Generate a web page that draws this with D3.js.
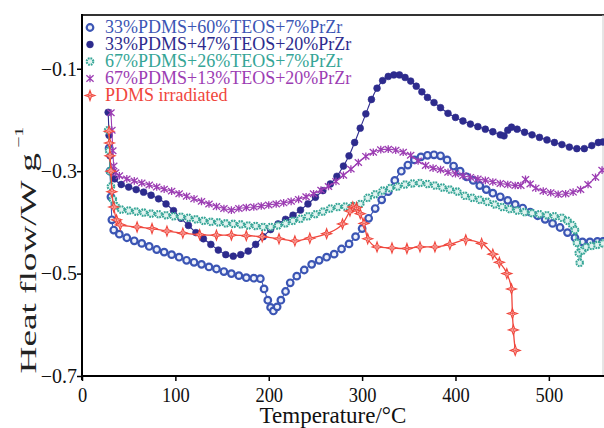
<!DOCTYPE html>
<html>
<head>
<meta charset="utf-8">
<script src="https://cdn.jsdelivr.net/npm/d3@7"></script>
<style>
  html, body { margin: 0; padding: 0; background: #fff; }
  svg { display: block; }
  text { font-family: "Liberation Serif", "Times New Roman", serif; }
</style>
</head>
<body>
<svg id="chart" width="604" height="428"></svg>
<script>
// ---------------- data ----------------
const seriesNames = [
  "33%PDMS+60%TEOS+7%PrZr",
  "33%PDMS+47%TEOS+20%PrZr",
  "67%PDMS+26%TEOS+7%PrZr",
  "67%PDMS+13%TEOS+20%PrZr",
  "PDMS irradiated"
];
const seriesColors = ["#3b55b4", "#2d2b8d", "#35a596", "#9c3db3", "#f0463c"];

const xTicks = [0, 100, 200, 300, 400, 500];
const yTicks = [-0.1, -0.3, -0.5, -0.7];
const yTickLabels = ["\u22120.1", "\u22120.3", "\u22120.5", "\u22120.7"];

// [temperature °C, heat flow W/g]
const s1 = [[29,-0.255],[30,-0.30],[31,-0.35],[32,-0.395],[34,-0.415],[40,-0.423],[48,-0.430],[56,-0.436],[64,-0.441],[72,-0.447],[80,-0.453],[88,-0.458],[96,-0.463],[104,-0.468],[112,-0.474],[120,-0.478],[128,-0.482],[136,-0.487],[144,-0.491],[152,-0.496],[160,-0.500],[168,-0.504],[176,-0.508],[184,-0.509],[191,-0.510],[195,-0.530],[199,-0.552],[202,-0.566],[205,-0.573],[209,-0.565],[213,-0.552],[218,-0.535],[223,-0.518],[230,-0.505],[238,-0.493],[246,-0.482],[254,-0.474],[262,-0.468],[270,-0.462],[278,-0.452],[286,-0.442],[293,-0.428],[300,-0.412],[307,-0.392],[314,-0.373],[321,-0.356],[328,-0.340],[335,-0.318],[342,-0.300],[349,-0.288],[356,-0.278],[363,-0.272],[370,-0.269],[377,-0.268],[384,-0.270],[391,-0.278],[398,-0.290],[405,-0.300],[412,-0.311],[419,-0.318],[426,-0.328],[433,-0.336],[440,-0.343],[448,-0.350],[456,-0.357],[464,-0.365],[472,-0.372],[480,-0.380],[488,-0.387],[496,-0.394],[504,-0.402],[512,-0.410],[520,-0.420],[528,-0.430],[536,-0.438],[544,-0.438],[552,-0.437],[558,-0.437]];

const s2 = [[28,-0.185],[29,-0.23],[30,-0.27],[32,-0.30],[35,-0.315],[42,-0.326],[50,-0.331],[58,-0.336],[66,-0.341],[74,-0.347],[82,-0.354],[90,-0.364],[98,-0.377],[106,-0.392],[114,-0.406],[122,-0.420],[130,-0.432],[138,-0.443],[146,-0.454],[154,-0.463],[162,-0.466],[170,-0.463],[178,-0.456],[186,-0.443],[194,-0.428],[202,-0.414],[210,-0.403],[218,-0.394],[226,-0.386],[234,-0.376],[242,-0.364],[250,-0.351],[258,-0.338],[266,-0.325],[273,-0.310],[280,-0.290],[286,-0.270],[292,-0.244],[298,-0.216],[304,-0.188],[310,-0.160],[316,-0.138],[322,-0.123],[328,-0.115],[334,-0.112],[340,-0.112],[346,-0.117],[352,-0.124],[358,-0.134],[364,-0.145],[370,-0.156],[377,-0.166],[384,-0.176],[392,-0.187],[400,-0.195],[408,-0.202],[416,-0.208],[424,-0.213],[432,-0.218],[440,-0.223],[448,-0.229],[452,-0.231],[456,-0.220],[460,-0.214],[466,-0.218],[474,-0.224],[482,-0.229],[490,-0.234],[498,-0.239],[506,-0.244],[514,-0.248],[522,-0.253],[530,-0.256],[538,-0.256],[546,-0.250],[553,-0.244],[558,-0.243]];

const s3 = [[28,-0.220],[29,-0.26],[30,-0.30],[31,-0.33],[33,-0.355],[36,-0.368],[42,-0.375],[50,-0.377],[58,-0.379],[66,-0.381],[74,-0.383],[82,-0.384],[90,-0.386],[98,-0.388],[106,-0.389],[114,-0.391],[122,-0.394],[130,-0.397],[138,-0.399],[146,-0.400],[154,-0.402],[162,-0.403],[170,-0.404],[178,-0.406],[186,-0.407],[194,-0.409],[202,-0.409],[210,-0.406],[218,-0.402],[226,-0.397],[234,-0.393],[242,-0.388],[250,-0.384],[258,-0.379],[266,-0.373],[274,-0.370],[282,-0.369],[290,-0.368],[298,-0.364],[306,-0.352],[314,-0.345],[322,-0.338],[330,-0.333],[338,-0.330],[346,-0.326],[354,-0.324],[362,-0.323],[370,-0.325],[378,-0.328],[386,-0.332],[394,-0.336],[402,-0.340],[410,-0.348],[418,-0.352],[426,-0.356],[434,-0.360],[442,-0.365],[450,-0.370],[458,-0.374],[466,-0.377],[474,-0.380],[482,-0.382],[490,-0.384],[498,-0.386],[506,-0.388],[514,-0.391],[520,-0.397],[525,-0.405],[528,-0.415],[530,-0.440],[532,-0.460],[533,-0.479],[536,-0.455],[540,-0.448],[546,-0.446],[552,-0.444],[558,-0.441]];

const s4 = [[31,-0.186],[32,-0.22],[33,-0.26],[34,-0.29],[36,-0.303],[40,-0.309],[48,-0.315],[56,-0.319],[64,-0.323],[72,-0.327],[80,-0.331],[88,-0.335],[96,-0.339],[104,-0.344],[112,-0.349],[120,-0.354],[128,-0.359],[136,-0.364],[144,-0.369],[152,-0.373],[160,-0.376],[168,-0.373],[176,-0.371],[184,-0.370],[192,-0.368],[200,-0.366],[208,-0.364],[216,-0.362],[224,-0.359],[232,-0.355],[240,-0.350],[248,-0.344],[256,-0.337],[264,-0.330],[272,-0.320],[280,-0.308],[288,-0.296],[296,-0.283],[304,-0.271],[312,-0.263],[320,-0.258],[328,-0.257],[336,-0.259],[344,-0.263],[352,-0.269],[360,-0.280],[368,-0.289],[376,-0.294],[384,-0.297],[392,-0.302],[400,-0.305],[408,-0.309],[416,-0.312],[424,-0.315],[432,-0.318],[440,-0.321],[448,-0.324],[456,-0.326],[464,-0.328],[470,-0.328],[475,-0.316],[480,-0.325],[486,-0.333],[494,-0.339],[502,-0.342],[510,-0.345],[518,-0.344],[526,-0.341],[534,-0.336],[542,-0.326],[550,-0.312],[557,-0.298]];

const s5 = [[29,-0.222],[29.5,-0.245],[30,-0.27],[31,-0.30],[32,-0.34],[34,-0.37],[37,-0.395],[41,-0.405],[59,-0.409],[75,-0.412],[91,-0.417],[108,-0.421],[126,-0.424],[144,-0.425],[160,-0.425],[176,-0.426],[193,-0.428],[211,-0.432],[228,-0.436],[244,-0.431],[262,-0.422],[279,-0.403],[287,-0.378],[290,-0.370],[294,-0.371],[298,-0.383],[302,-0.402],[306,-0.432],[316,-0.448],[332,-0.450],[348,-0.451],[362,-0.448],[378,-0.448],[394,-0.443],[411,-0.434],[428,-0.441],[440,-0.462],[447,-0.478],[455,-0.500],[460,-0.530],[461,-0.578],[462,-0.610],[464,-0.650]];

const allSeries = [s1, s2, s3, s4, s5];

// ---------------- layout ----------------
const svg = d3.select("#chart");
const L = 82, R = 603, T = 15, B = 376;
const x = d3.scaleLinear().domain([0, 558]).range([L, R]);
const y = d3.scaleLinear().domain([-0.7, 0.005]).range([B, T]);

// frame (top + right)
svg.append("line").attr("x1", L).attr("x2", R + 1).attr("y1", T).attr("y2", T)
  .attr("stroke", "#333").attr("stroke-width", 2);
svg.append("line").attr("x1", R).attr("x2", R).attr("y1", T).attr("y2", B)
  .attr("stroke", "#ccc").attr("stroke-width", 1);

// x axis
const gx = svg.append("g").attr("transform", `translate(0,${B})`)
  .call(d3.axisBottom(x).tickValues(xTicks).tickSize(5).tickSizeOuter(0).tickFormat(d3.format("d")));
gx.select(".domain").attr("stroke", "#000").attr("stroke-width", 2).attr("d", `M${L},0H${R + 1}`);
gx.selectAll(".tick line").attr("stroke", "#000").attr("stroke-width", 1.5);
gx.selectAll(".tick text")
  .attr("y", 0).attr("dy", 0)
  .attr("transform", "translate(0,26) scale(0.84,1)")
  .attr("fill", "#111")
  .style("font-size", "22px");

// y axis
const gy = svg.append("g").attr("transform", `translate(${L},0)`)
  .call(d3.axisLeft(y).tickValues(yTicks).tickSize(5).tickSizeOuter(0)
    .tickFormat((d, i) => yTickLabels[i]));
gy.select(".domain").attr("stroke", "#000").attr("stroke-width", 2).attr("d", `M0,${T - 1}V${B + 4}`);
gy.selectAll(".tick line").attr("stroke", "#000").attr("stroke-width", 1.5);
gy.selectAll(".tick text")
  .attr("x", -5).attr("dy", "0.32em")
  .attr("fill", "#111")
  .style("font-size", "20px");

// axis titles
svg.append("text")
  .attr("x", 333).attr("y", 423)
  .attr("text-anchor", "middle")
  .attr("fill", "#111")
  .style("font-size", "23px")
  .text("Temperature/\u00B0C");

const yt = svg.append("text")
  .attr("transform", "translate(36,250) rotate(-90) scale(1.55,1)")
  .attr("text-anchor", "middle")
  .attr("fill", "#222")
  .style("font-size", "24px");
yt.append("tspan").text("Heat flow/W g");
yt.append("tspan").attr("dy", -13).style("font-size", "13px").text(" \u22121");

// ---------------- markers ----------------
const starPath = "M0,-5L1.3,-1.3L5,0L1.3,1.3L0,5L-1.3,1.3L-5,0L-1.3,-1.3Z";
const asteriskPath = "M-3.6,-3.2L3.6,3.2M-3.6,3.2L3.6,-3.2M0,-3.8V3.8";

function drawMarker(g, i, color) {
  if (i === 0) {
    g.append("circle").attr("r", 3.3).attr("fill", "#eef1fa").attr("stroke", color).attr("stroke-width", 2.2);
  } else if (i === 1) {
    g.append("circle").attr("r", 3.4).attr("fill", color).attr("stroke", color).attr("stroke-width", 0.6);
  } else if (i === 2) {
    g.append("circle").attr("r", 3.3).attr("fill", "#e2f3f0").attr("stroke", color)
      .attr("stroke-width", 2.1).attr("stroke-dasharray", "1.7,0.9");
  } else if (i === 3) {
    g.append("path").attr("d", asteriskPath).attr("fill", "none").attr("stroke", color).attr("stroke-width", 1.3);
  } else {
    g.append("path").attr("d", starPath).attr("fill", "#fff").attr("stroke", color).attr("stroke-width", 1.1);
    g.append("path").attr("d", "M0,-2.5V2.5M-2.5,0H2.5").attr("stroke", color).attr("stroke-width", 0.8);
  }
}

const line = d3.line().x(d => x(d[0])).y(d => y(d[1])).curve(d3.curveMonotoneX);

allSeries.forEach((data, i) => {
  const color = seriesColors[i];
  const g = svg.append("g");
  g.append("path").datum(data).attr("d", line)
    .attr("fill", "none").attr("stroke", color).attr("stroke-width", i === 4 ? 1.3 : 1.1);
  g.selectAll("g.m").data(data).join("g").attr("class", "m")
    .attr("transform", d => `translate(${x(d[0])},${y(d[1])})`)
    .each(function () { drawMarker(d3.select(this), i, color); });
});

// ---------------- legend ----------------
const legendY = [27.5, 44.5, 61.5, 78.5, 95.5];
seriesNames.forEach((name, i) => {
  const g = svg.append("g").attr("transform", `translate(90,${legendY[i]})`);
  drawMarker(g, i, seriesColors[i]);
  g.append("text").attr("x", 15).attr("y", 5.5)
    .attr("fill", seriesColors[i])
    .style("font-size", "18px")
    .text(name);
});
</script>
</body>
</html>
